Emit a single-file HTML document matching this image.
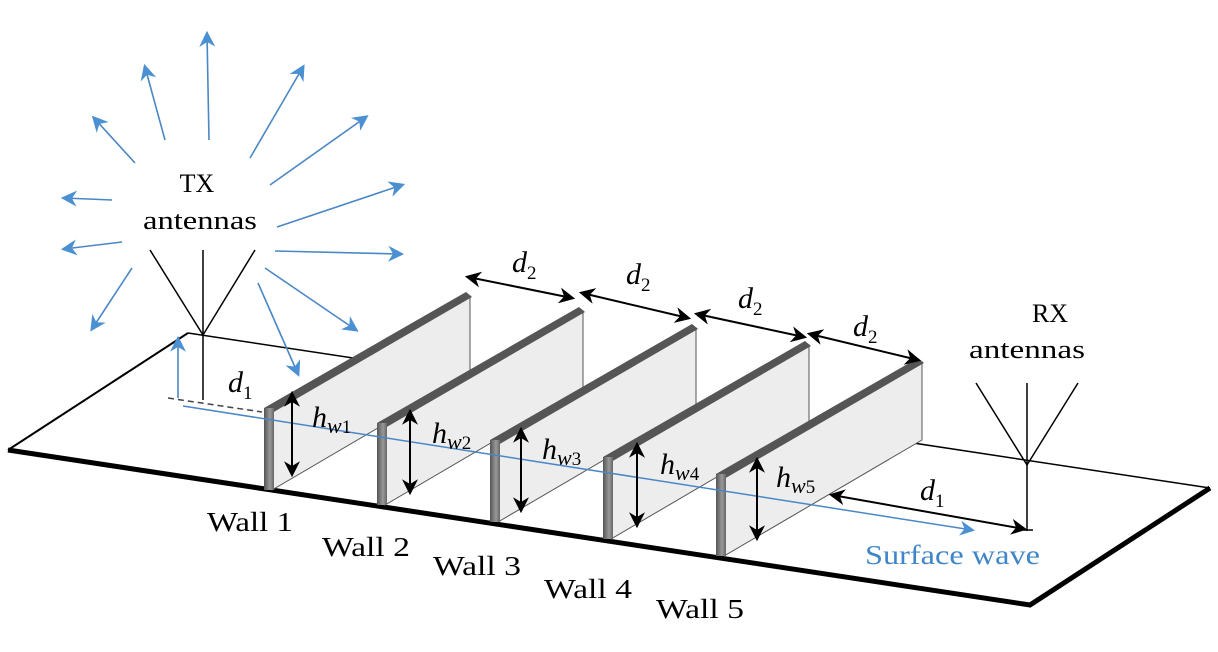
<!DOCTYPE html>
<html><head><meta charset="utf-8"><style>
html,body{margin:0;padding:0;background:#fff}
svg{display:block}
</style></head><body>
<svg width="1218" height="652" viewBox="0 0 1218 652" xmlns="http://www.w3.org/2000/svg" font-family="'Liberation Serif','Times New Roman',serif">
<defs>
<marker id="ba" viewBox="0 0 10 10" refX="8" refY="5" markerWidth="10" markerHeight="10" orient="auto-start-reverse"><path d="M0,0 L10,5 L0,10 L3,5z" fill="#4a90d2"/></marker>
<marker id="ka" viewBox="0 0 10 10" refX="8" refY="5" markerWidth="8" markerHeight="8" orient="auto-start-reverse"><path d="M0,0 L10,5 L0,10 L3,5z" fill="#000"/></marker>
<linearGradient id="fr" x1="0" x2="1"><stop offset="0" stop-color="#555"/><stop offset="0.6" stop-color="#999"/><stop offset="1" stop-color="#666"/></linearGradient>
</defs>
<path d="M188,333 L1210,488" stroke="#000" stroke-width="1.5"/>
<path d="M188,333 L8,450" stroke="#000" stroke-width="2"/>
<path d="M8,450 L1030,605 L1210,488" stroke="#000" stroke-width="5" fill="none"/>
<g stroke="#4a87c4" stroke-width="1.6" marker-end="url(#ba)">
<line x1="209" y1="140" x2="207" y2="34"/>
<line x1="165" y1="140" x2="145" y2="67"/>
<line x1="250" y1="158" x2="303" y2="67"/>
<line x1="135" y1="163" x2="94" y2="118"/>
<line x1="270" y1="185" x2="366" y2="117"/>
<line x1="112" y1="200" x2="64" y2="198"/>
<line x1="277" y1="227" x2="402" y2="185"/>
<line x1="122" y1="242" x2="64" y2="249"/>
<line x1="275" y1="251" x2="401" y2="254"/>
<line x1="132" y1="268" x2="92" y2="329"/>
<line x1="265" y1="268" x2="356" y2="330"/>
<line x1="258" y1="283" x2="298" y2="374"/>
<line x1="178" y1="398" x2="178" y2="339"/>
</g>
<text x="197" y="192" font-size="26" text-anchor="middle">TX</text>
<text x="200" y="229" font-size="26" text-anchor="middle" textLength="114" lengthAdjust="spacingAndGlyphs">antennas</text>
<g stroke="#000" stroke-width="1.5" fill="none">
<path d="M150,250 L203,335 L255,250"/>
<line x1="203" y1="250" x2="203" y2="400"/>
<line x1="168" y1="398" x2="262" y2="412" stroke-dasharray="6,4" stroke="#444"/>
</g>
<g>
<g>
<polygon points="272,410 470,296 470,374 272,490" fill="#ededed" stroke="#555" stroke-width="1"/>
<polygon points="264,408 466,292 472,297 272,413" fill="#555"/>
<rect x="264" y="408" width="10" height="82" fill="url(#fr)"/>
</g>
<g transform="translate(113,15)">
<polygon points="272,410 470,296 470,374 272,490" fill="#ededed" stroke="#555" stroke-width="1"/>
<polygon points="264,408 466,292 472,297 272,413" fill="#555"/>
<rect x="264" y="408" width="10" height="82" fill="url(#fr)"/>
</g>
<g transform="translate(226,32)">
<polygon points="272,410 470,296 470,374 272,490" fill="#ededed" stroke="#555" stroke-width="1"/>
<polygon points="264,408 466,292 472,297 272,413" fill="#555"/>
<rect x="264" y="408" width="10" height="82" fill="url(#fr)"/>
</g>
<g transform="translate(339,49)">
<polygon points="272,410 470,296 470,374 272,490" fill="#ededed" stroke="#555" stroke-width="1"/>
<polygon points="264,408 466,292 472,297 272,413" fill="#555"/>
<rect x="264" y="408" width="10" height="82" fill="url(#fr)"/>
</g>
<g transform="translate(452,66)">
<polygon points="272,410 470,296 470,374 272,490" fill="#ededed" stroke="#555" stroke-width="1"/>
<polygon points="264,408 466,292 472,297 272,413" fill="#555"/>
<rect x="264" y="408" width="10" height="82" fill="url(#fr)"/>
</g>
</g>
<line x1="183" y1="406" x2="972" y2="530" stroke="#4a87c4" stroke-width="1.5" marker-end="url(#ba)"/>
<g stroke="#000" stroke-width="2" marker-start="url(#ka)" marker-end="url(#ka)">
<line x1="292" y1="394" x2="292" y2="474"/>
<line x1="410" y1="412" x2="410" y2="492"/>
<line x1="521" y1="430" x2="521" y2="510"/>
<line x1="637" y1="445" x2="637" y2="525"/>
<line x1="757" y1="460" x2="757" y2="538"/>
<line x1="468" y1="277" x2="572" y2="298"/>
<line x1="582" y1="293" x2="688" y2="318"/>
<line x1="697" y1="314" x2="804" y2="337"/>
<line x1="810" y1="334" x2="918" y2="360"/>
<line x1="832" y1="495" x2="1024" y2="529"/>
</g>
<g stroke="#000" stroke-width="1.5" fill="none">
<path d="M976,383 L1027,465 L1078,383"/>
<line x1="1027" y1="383" x2="1027" y2="531"/>
<line x1="1022" y1="530" x2="1033" y2="530"/>
</g>
<text x="1050" y="322" font-size="26" text-anchor="middle">RX</text>
<text x="1027" y="358" font-size="26" text-anchor="middle" textLength="116" lengthAdjust="spacingAndGlyphs">antennas</text>
<g font-size="30" font-style="italic">
<text x="228" y="392">d<tspan font-size="19" dy="7" font-style="normal">1</tspan></text>
<text x="512" y="272">d<tspan font-size="19" dy="7" font-style="normal">2</tspan></text>
<text x="626" y="284">d<tspan font-size="19" dy="7" font-style="normal">2</tspan></text>
<text x="738" y="308">d<tspan font-size="19" dy="7" font-style="normal">2</tspan></text>
<text x="853" y="336">d<tspan font-size="19" dy="7" font-style="normal">2</tspan></text>
<text x="920" y="500">d<tspan font-size="19" dy="7" font-style="normal">1</tspan></text>
<text x="312" y="427">h<tspan font-size="22" dy="6">w</tspan><tspan font-size="19" font-style="normal">1</tspan></text>
<text x="432" y="443">h<tspan font-size="22" dy="6">w</tspan><tspan font-size="19" font-style="normal">2</tspan></text>
<text x="542" y="459">h<tspan font-size="22" dy="6">w</tspan><tspan font-size="19" font-style="normal">3</tspan></text>
<text x="660" y="474">h<tspan font-size="22" dy="6">w</tspan><tspan font-size="19" font-style="normal">4</tspan></text>
<text x="776" y="487">h<tspan font-size="22" dy="6">w</tspan><tspan font-size="19" font-style="normal">5</tspan></text>
</g>
<g font-size="27">
<text x="207" y="531" textLength="86" lengthAdjust="spacingAndGlyphs">Wall 1</text>
<text x="322" y="556" textLength="88" lengthAdjust="spacingAndGlyphs">Wall 2</text>
<text x="433" y="575" textLength="88" lengthAdjust="spacingAndGlyphs">Wall 3</text>
<text x="544" y="598" textLength="88" lengthAdjust="spacingAndGlyphs">Wall 4</text>
<text x="656" y="618" textLength="88" lengthAdjust="spacingAndGlyphs">Wall 5</text>
<text x="865" y="564" fill="#3f86c8" textLength="175" lengthAdjust="spacingAndGlyphs">Surface wave</text>
</g>
</svg>
</body></html>
